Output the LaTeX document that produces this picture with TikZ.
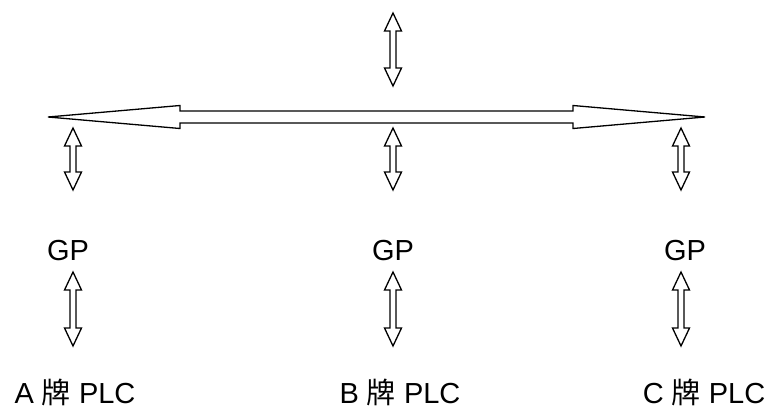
\documentclass[tikz,border=0pt]{standalone}
\usepackage{fontspec}
\setmainfont{Liberation Sans}
\newfontfamily\cjk{Noto Sans CJK SC}
\usetikzlibrary{calc}

\tikzset{
  hollow/.style={draw, line width=1.3pt, line join=miter, fill=white},
  label/.style={font=\fontsize{29}{34}\selectfont, inner sep=0pt, anchor=base}
}

% hollow double arrow standing upright, tip #1 on top, tip #2 below
\newcommand{\updown}[2]{%
  \draw[hollow] (#1) -- ($(#1)+(-8.5,18)$) -- ($(#1)+(-3,18)$)
    -- ($(#2)+(-3,-18)$) -- ($(#2)+(-8.5,-18)$) -- (#2)
    -- ($(#2)+(8.5,-18)$) -- ($(#2)+(3,-18)$)
    -- ($(#1)+(3,18)$) -- ($(#1)+(8.5,18)$) -- cycle;}

% long hollow double arrow lying flat, tip #1 left, tip #2 right
\newcommand{\leftright}[2]{%
  \draw[hollow] (#1) -- ($(#1)+(132,-11.5)$) -- ($(#1)+(132,-6)$)
    -- ($(#2)+(-132,-6)$) -- ($(#2)+(-132,-11.5)$) -- (#2)
    -- ($(#2)+(-132,11.5)$) -- ($(#2)+(-132,6)$)
    -- ($(#1)+(132,6)$) -- ($(#1)+(132,11.5)$) -- cycle;}

\begin{document}
\begin{tikzpicture}[x=1pt, y=-1pt]
\useasboundingbox (0,0) rectangle (771,408);

% end points of the bus and the links
\coordinate (busL) at (48,117);
\coordinate (busR) at (705,117);
\coordinate (upT) at (393,13);
\coordinate (upB) at (393,86);

% gateways and controllers
\node[label] (gpA) at (68,260) {GP};
\node[label] (gpB) at (393,260) {GP};
\node[label] (gpC) at (685,260) {GP};
\node[label] (plcA) at (75,403) {A {\cjk 牌} PLC};
\node[label] (plcB) at (400,403) {B {\cjk 牌} PLC};
\node[label] (plcC) at (704,403) {C {\cjk 牌} PLC};

\foreach \n/\x in {A/73, B/393, C/681} {
  \coordinate (bus\n) at (\x,128);
  \coordinate (gp\n in) at (\x,190);
  \coordinate (gp\n out) at (\x,272);
  \coordinate (plc\n in) at (\x,346);
}

% bus, then the links hanging from it
\updown{upT}{upB}
\leftright{busL}{busR}
\foreach \n in {A, B, C} {
  \updown{bus\n}{gp\n in}
  \updown{gp\n out}{plc\n in}
}
\end{tikzpicture}
\end{document}
